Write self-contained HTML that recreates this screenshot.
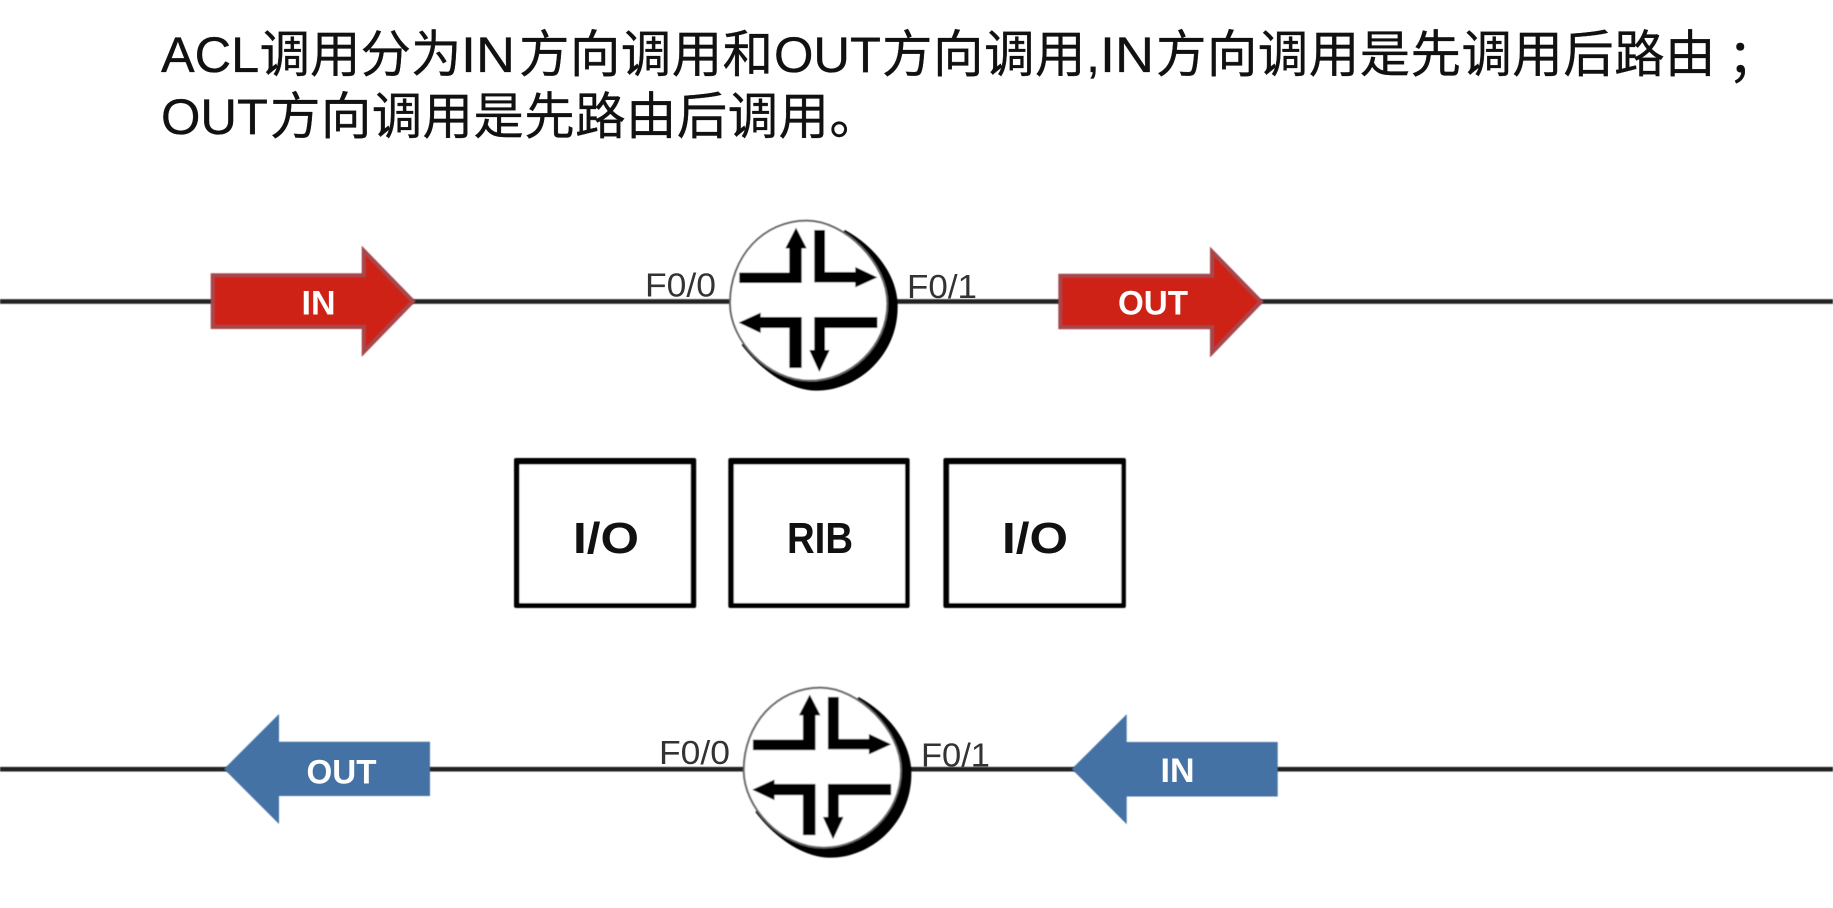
<!DOCTYPE html>
<html lang="zh">
<head>
<meta charset="utf-8">
<title>ACL调用方向</title>
<style>
html,body{margin:0;padding:0;background:#fff;width:1833px;height:908px;overflow:hidden}
svg{display:block;position:absolute;left:0;top:0}
.t{font-family:"Liberation Sans","Noto Sans CJK SC",sans-serif;font-size:50.5px;fill:#111;stroke:#111;stroke-width:.35px}
.p{font-family:"Liberation Sans",sans-serif;font-size:33px;fill:#333}
.b{font-family:"Liberation Sans",sans-serif;font-weight:700;font-size:44px;fill:#111}
.w{font-family:"Liberation Sans",sans-serif;font-weight:700;font-size:34px;fill:#fff}
</style>
</head>
<body>
<svg width="1833" height="908" viewBox="0 0 1833 908" xmlns="http://www.w3.org/2000/svg">
<defs>
<filter id="s" x="-5%" y="-5%" width="110%" height="110%"><feGaussianBlur stdDeviation="0.6"/></filter>
<filter id="q" x="-2%" y="-2%" width="104%" height="104%"><feGaussianBlur stdDeviation="0.4"/></filter>
<g id="router">
<path d="M735,90 C825,140 893,225 893,320 C893,470 770,572 650,572 C575,572 490,520 425,435 Z" fill="#000"/>
<path d="M390,310 C390,170 490,62 620,62 C735,62 862,190 862,310 C862,440 750,542 630,542 C500,542 390,420 390,310 Z" fill="#fff" stroke="#666" stroke-width="6"/>
<polygon points="418,218 568,218 568,145 556,145 588,83 620,145 605,145 605,249 418,249" fill="#000"/>
<polygon points="643,90 675,90 675,216 766,216 766,201 832,232 766,262 766,247 643,247" fill="#000"/>
<polygon points="416,368 482,338 482,351 605,351 605,504 568,504 568,384 482,384 482,399" fill="#000"/>
<polygon points="643,351 832,351 832,384 675,384 675,450 689,450 658,516 628,450 643,450" fill="#000"/>
</g>
</defs>

<!-- lines -->
<g filter="url(#q)">
<rect x="0" y="299.2" width="1833" height="4.6" fill="#222"/>
<rect x="0" y="766.9" width="1833" height="4.6" fill="#222"/>
</g>

<!-- title -->
<text class="t" x="161" y="72">ACL</text>
<text class="t" x="259.5" y="72">调用分为</text>
<text class="t" x="461" y="72" textLength="54" lengthAdjust="spacingAndGlyphs">IN</text>
<text class="t" x="519" y="72" letter-spacing=".4">方向调用和</text>
<text class="t" x="774" y="72" textLength="107" lengthAdjust="spacingAndGlyphs">OUT</text>
<text class="t" x="882" y="72" letter-spacing=".5">方向调用</text>
<text class="t" x="1086" y="72">,</text>
<text class="t" x="1100" y="72" textLength="54" lengthAdjust="spacingAndGlyphs">IN</text>
<text class="t" x="1156" y="72" letter-spacing=".4">方向调用是先调用后路由</text>
<text class="t" x="1715" y="78" style="font-family:'Noto Sans CJK TC',sans-serif">；</text>
<text class="t" x="161" y="134" textLength="107" lengthAdjust="spacingAndGlyphs">OUT</text>
<text class="t" x="270" y="134" letter-spacing=".35">方向调用是先路由后调用。</text>

<!-- routers -->
<g filter="url(#s)">
<g transform="translate(600,200) scale(.33333)"><use href="#router"/></g>
<g transform="translate(613.7,667) scale(.33333)"><use href="#router"/></g>
</g>

<!-- port labels -->
<text class="p" x="645" y="296.5" textLength="71" lengthAdjust="spacingAndGlyphs">F0/0</text>
<text class="p" x="907" y="298" textLength="70" lengthAdjust="spacingAndGlyphs">F0/1</text>
<text class="p" x="659" y="764" textLength="71" lengthAdjust="spacingAndGlyphs">F0/0</text>
<text class="p" x="921" y="766.5" textLength="69" lengthAdjust="spacingAndGlyphs">F0/1</text>

<!-- arrows -->
<g filter="url(#q)">
<path d="M212.7,275.3 H363.7 V250.5 L413,301.3 L363.7,352 V327 H212.7 Z" fill="#ce2013" stroke="#a8474c" stroke-width="4"/>
<path d="M1060.3,275.7 H1212 V251.5 L1261,301.7 L1212,352.5 V327.3 H1060.3 Z" fill="#ce2013" stroke="#a8474c" stroke-width="4"/>
<path d="M224,769 L279,714 V741.7 H430 V796 H279 V824 Z" fill="#4472a5"/>
<path d="M1071.7,769 L1126.7,714.3 V742 H1277.7 V796.5 H1126.7 V824.3 Z" fill="#4472a5"/>
</g>
<text class="w" x="301.5" y="314.5" textLength="34" lengthAdjust="spacingAndGlyphs">IN</text>
<text class="w" x="1118" y="314.5" textLength="70" lengthAdjust="spacingAndGlyphs">OUT</text>
<text class="w" x="306.5" y="783.5" textLength="70" lengthAdjust="spacingAndGlyphs">OUT</text>
<text class="w" x="1160.5" y="782" textLength="34" lengthAdjust="spacingAndGlyphs">IN</text>

<!-- boxes -->
<g filter="url(#q)">
<rect x="514" y="458" width="182.2" height="150" rx="2" fill="#000"/>
<rect x="519.5" y="464.5" width="171.2" height="138.5" fill="#fff"/>
<rect x="728.3" y="458" width="181.3" height="150" rx="2" fill="#000"/>
<rect x="733.8" y="464.5" width="171.2" height="138.5" fill="#fff"/>
<rect x="943.4" y="458" width="182.5" height="150" rx="2" fill="#000"/>
<rect x="949.3" y="464.5" width="172" height="138.5" fill="#fff"/>
</g>
<text class="b" x="573" y="553" textLength="66" lengthAdjust="spacingAndGlyphs">I/O</text>
<text class="b" x="787" y="553" textLength="66" lengthAdjust="spacingAndGlyphs">RIB</text>
<text class="b" x="1002" y="553" textLength="66" lengthAdjust="spacingAndGlyphs">I/O</text>
</svg>
</body>
</html>
